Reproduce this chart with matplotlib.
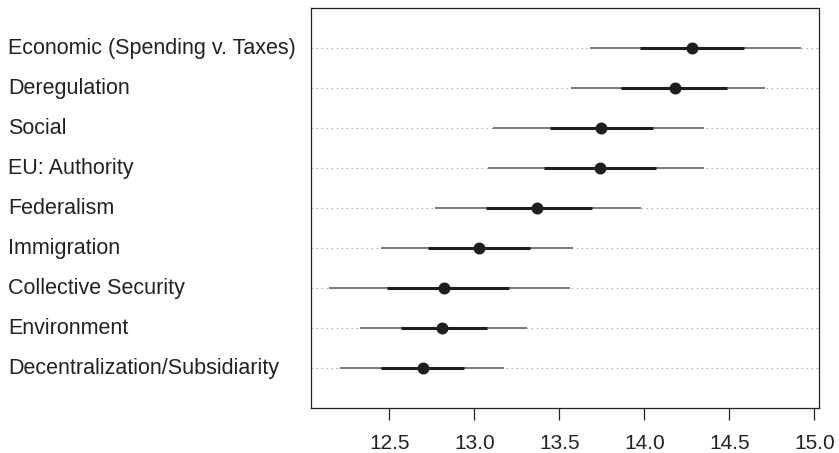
import matplotlib
matplotlib.use("Agg")
import matplotlib.pyplot as plt
from matplotlib.transforms import blended_transform_factory

plt.rcParams["font.family"] = ["Liberation Sans", "DejaVu Sans"]

# categories, top to bottom
labels = ["Economic (Spending v. Taxes)", "Deregulation", "Social", "EU: Authority",
          "Federalism", "Immigration", "Collective Security", "Environment",
          "Decentralization/Subsidiarity"]
est = [14.28, 14.18, 13.745, 13.74, 13.37, 13.03, 12.82, 12.81, 12.695]
lo_outer = [13.68, 13.57, 13.11, 13.08, 12.77, 12.45, 12.145, 12.33, 12.21]
hi_outer = [14.92, 14.71, 14.35, 14.35, 13.98, 13.58, 13.565, 13.31, 13.175]
lo_inner = [13.975, 13.865, 13.445, 13.41, 13.07, 12.725, 12.485, 12.567, 12.45]
hi_inner = [14.585, 14.485, 14.05, 14.07, 13.69, 13.33, 13.205, 13.075, 12.94]
xticks = [12.5, 13.0, 13.5, 14.0, 14.5, 15.0]

n = len(labels)
ypos = [n - i for i in range(n)]

fig = plt.figure(figsize=(8.39, 4.53), dpi=100)
ax = fig.add_axes([0.3707, 0.0987, 0.6058, 0.8836])

for y in ypos:
    ax.axhline(y, color="#b0b0b0", lw=0.8, ls=(0, (1.5, 3)), zorder=1)

ax.hlines(ypos, lo_outer, hi_outer, color="#7a7a7a", lw=1.4, zorder=2)
ax.hlines(ypos, lo_inner, hi_inner, color="#1e1e1e", lw=2.2, zorder=3)
ax.plot(est, ypos, "o", color="#1e1e1e", ms=7.6, zorder=4)

ax.set_xlim(12.039, 15.029)
ax.set_ylim(0, n + 1)
ax.set_yticks([])
ax.set_xticks(xticks)
ax.set_xticklabels([f"{t:.1f}" for t in xticks], fontsize=15, color="#222222")
ax.tick_params(axis="x", length=8.8, width=0.9, color="#222222", pad=9.5)
for s in ax.spines.values():
    s.set_color("#222222")
    s.set_linewidth(0.9)

tr = blended_transform_factory(fig.transFigure, ax.transData)
for lab, y in zip(labels, ypos):
    ax.text(8 / 839, y, lab, transform=tr, ha="left", va="center",
            fontsize=15.5, color="#222222")

fig.savefig("out.png", dpi=100)
